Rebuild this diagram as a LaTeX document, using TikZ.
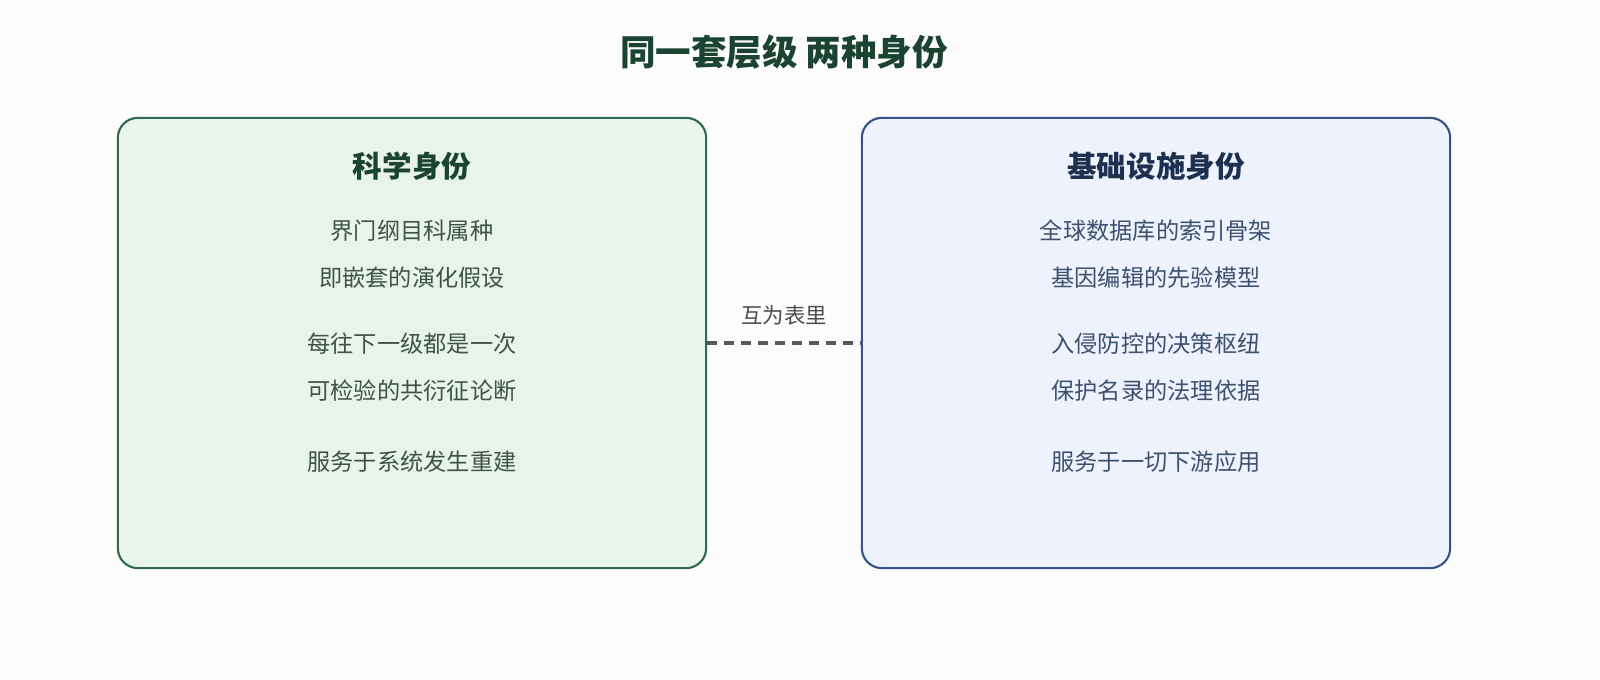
\documentclass[tikz,border=0pt]{standalone}
\usepackage{fontspec}
\setmainfont{Noto Sans CJK SC}
\begin{document}
\begin{tikzpicture}[x=0.01cm,y=-0.01cm,
  box/.style={rounded corners=0.2cm,line width=0.6pt},
  txt/.style={font=\fontsize{6.6pt}{7pt}\selectfont,anchor=center,inner sep=0},
  head/.style={font=\fontsize{8.4pt}{9pt}\selectfont\bfseries,anchor=center,inner sep=0}]
\definecolor{lfill}{HTML}{E8F4EA}\definecolor{lline}{HTML}{2D6A4F}
\definecolor{rfill}{HTML}{EEF2FC}\definecolor{rline}{HTML}{34558A}
\definecolor{ltext}{HTML}{3E5247}\definecolor{rtext}{HTML}{3E5070}
\definecolor{lhead}{HTML}{1B4332}\definecolor{rhead}{HTML}{1E3050}
\fill[white!98!gray] (0,0) rectangle (1600,680);
\useasboundingbox (0,0) rectangle (1600,680);
\node[head,font=\fontsize{10.1pt}{11pt}\selectfont\bfseries,text=lhead] (title) at (784,52) {同一套层级 两种身份};
\node[box,draw=lline,fill=lfill,minimum width=5.88cm,minimum height=4.5cm] (L) at (412,343) {};
\node[box,draw=rline,fill=rfill,minimum width=5.88cm,minimum height=4.5cm] (R) at (1156,343) {};
\node[head,text=lhead] (lh) at (412,166) {科学身份};
\node[txt,text=ltext] (l1) at (412,231) {界门纲目科属种};
\node[txt,text=ltext] (l2) at (412,278) {即嵌套的演化假设};
\node[txt,text=ltext] (l3) at (412,344) {每往下一级都是一次};
\node[txt,text=ltext] (l4) at (412,391) {可检验的共衍征论断};
\node[txt,text=ltext] (l5) at (412,462) {服务于系统发生重建};
\node[head,text=rhead] (rh) at (1156,166) {基础设施身份};
\node[txt,text=rtext] (r1) at (1156,231) {全球数据库的索引骨架};
\node[txt,text=rtext] (r2) at (1156,278) {基因编辑的先验模型};
\node[txt,text=rtext] (r3) at (1156,344) {入侵防控的决策枢纽};
\node[txt,text=rtext] (r4) at (1156,391) {保护名录的法理依据};
\node[txt,text=rtext] (r5) at (1156,462) {服务于一切下游应用};
\draw[line width=0.9pt,dash pattern=on 0.1cm off 0.07cm,draw=black!65] (L.east) -- (R.west) node[midway,above=0.28cm,txt,font=\fontsize{6.1pt}{7pt}\selectfont,text=black!70] (m) {互为表里};
\end{tikzpicture}
\end{document}
